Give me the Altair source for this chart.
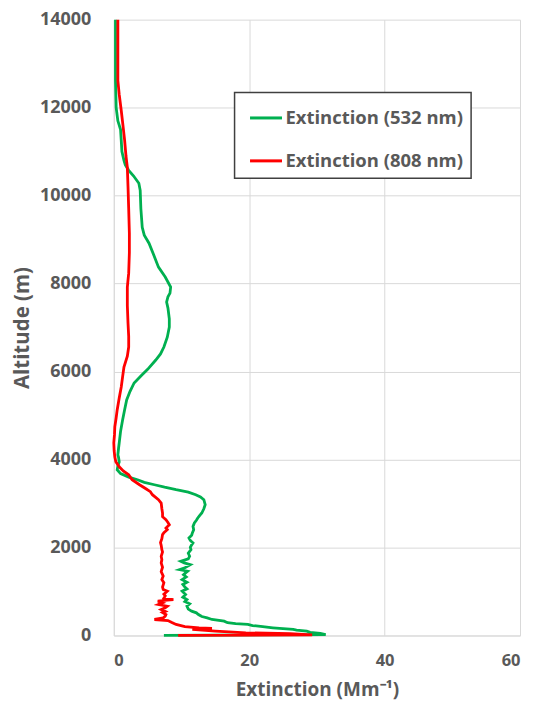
import altair as alt
import pandas as pd

# 532 nm profile (altitude m, extinction Mm^-1)
alt_532 = [0, 20, 45, 70, 98, 120, 136, 160, 174, 200, 225, 250, 270, 290, 325, 363, 400, 430, 476, 514,
           552, 600, 665, 720, 770, 817, 870, 930, 1006, 1060, 1100, 1160, 1210, 1270, 1330, 1380, 1422, 1460,
           1497, 1540, 1610, 1650, 1686, 1740, 1800, 1870, 1951, 2000, 2060, 2103, 2160, 2217, 2280, 2330,
           2400, 2480, 2557, 2620, 2670, 2730, 2784, 2880, 2972, 3086, 3150, 3200, 3260, 3313, 3370, 3426,
           3480, 3540, 3600, 3680, 3767, 3850, 3948, 4050, 4107, 4250, 4380, 4640, 4900, 5130, 5355, 5550,
           5740, 5900, 6050, 6262, 6400, 6557, 6780, 7011, 7200, 7442, 7579, 7700, 7783, 7919, 8150, 8373,
           8650, 8917, 9100, 9280, 9700, 10120, 10280, 10450, 10574, 10700, 10800, 11000, 11254, 11500,
           11700, 12000, 12615, 13300, 14000]
ext_532 = [7.4, 31.3, 30.5, 29.0, 28.5, 27.0, 26.5, 24.5, 23.5, 22.0, 20.5, 19.8, 18.0, 16.8, 16.3, 14.5, 13.8,
           13.0, 12.5, 12.2, 11.5, 11.0, 10.8, 11.2, 10.5, 10.8, 10.2, 10.6, 10.1, 10.8, 10.5, 10.2, 10.8, 10.1,
           10.7, 10.3, 10.6, 10.9, 9.7, 10.5, 11.3, 10.4, 9.9, 11.0, 11.2, 11.0, 11.4, 11.3, 11.5, 11.7, 11.3,
           11.1, 11.5, 11.6, 11.8, 11.7, 11.9, 12.2, 12.4, 12.7, 13.0, 13.3, 13.5, 13.3, 12.8, 12.1, 11.0, 9.2,
           7.5, 6.0, 4.5, 3.5, 2.2, 1.0, 0.5, 0.6, 0.8, 0.7, 0.6, 0.7, 0.8, 1.0, 1.3, 1.6, 1.9, 2.4, 3.0, 4.0,
           5.0, 6.2, 6.9, 7.4, 7.9, 8.2, 8.2, 8.0, 7.8, 8.0, 8.3, 8.4, 7.6, 6.6, 5.9, 5.2, 4.5, 4.2, 4.0, 3.9,
           3.7, 2.9, 2.2, 1.7, 1.5, 1.2, 1.1, 1.0, 0.6, 0.35, 0.25, 0.25, 0.25]

# 808 nm profile
alt_808 = [0, 15, 40, 60, 80, 100, 136, 160, 174, 200, 250, 300, 340, 363, 400, 440, 476, 520, 545, 590, 630,
           665, 703, 741, 779, 800, 817, 850, 900, 938, 1006, 1044, 1100, 1200, 1270, 1350, 1450, 1550, 1650,
           1724, 1800, 1900, 1951, 2050, 2110, 2200, 2292, 2337, 2405, 2443, 2519, 2570, 2632, 2700, 2784,
           2880, 3011, 3086, 3200, 3268, 3330, 3426, 3540, 3653, 3740, 3835, 3950, 4062, 4200, 4380, 4560,
           4742, 4950, 5128, 5400, 5650, 5880, 6104, 6350, 6557, 6800, 7100, 7500, 7919, 8237, 8700, 9144,
           9700, 10200, 10642, 10900, 11254, 11600, 11935, 12300, 12615, 13300, 14000]
ext_808 = [9.5, 29.3, 26.0, 19.5, 17.0, 15.0, 11.6, 14.5, 12.6, 10.5, 9.2, 8.5, 8.0, 6.0, 7.3, 7.6, 7.7, 7.2,
           7.6, 7.0, 7.6, 7.9, 6.6, 7.2, 6.5, 7.5, 8.8, 7.4, 7.6, 7.4, 7.9, 7.3, 7.2, 7.4, 7.1, 7.3, 7.0, 7.2,
           7.0, 7.1, 7.0, 7.2, 7.1, 7.0, 6.9, 7.1, 7.2, 7.4, 7.9, 7.7, 8.2, 8.0, 7.7, 7.2, 7.2, 7.1, 7.0, 6.6,
           5.7, 5.4, 4.8, 3.8, 2.7, 2.2, 1.4, 0.8, 0.3, 0.15, 0.05, 0.0, 0.1, 0.15, 0.35, 0.5, 0.8, 1.1, 1.3,
           1.5, 2.0, 2.2, 2.2, 2.1, 2.0, 2.0, 2.2, 2.3, 2.3, 2.2, 2.1, 2.0, 1.8, 1.6, 1.35, 1.1, 0.8, 0.6, 0.6,
           0.6]

series = ["Extinction (532 nm)", "Extinction (808 nm)"]
colors = ["#00B050", "#FF0000"]
x_ticks = [0, 20, 40, 60]
y_ticks = [0, 2000, 4000, 6000, 8000, 10000, 12000, 14000]

rows = []
for i, (a, e) in enumerate(zip(alt_532, ext_532)):
    rows.append({"series": series[0], "alt": a, "ext": e, "idx": i})
for i, (a, e) in enumerate(zip(alt_808, ext_808)):
    rows.append({"series": series[1], "alt": a, "ext": e, "idx": i})
df = pd.DataFrame(rows)

FONT = "Open Sans"
GRAY = "#595959"

chart = alt.Chart(df).mark_line(strokeWidth=2.8).encode(
    x=alt.X("ext:Q", scale=alt.Scale(domain=[0, 60], nice=False),
            axis=alt.Axis(values=x_ticks, title="Extinction (Mm⁻¹)", labelPadding=17,
                          labelFontSize=16.5, titlePadding=12, titleFontSize=19)),
    y=alt.Y("alt:Q", scale=alt.Scale(domain=[0, 14000], nice=False),
            axis=alt.Axis(values=y_ticks, format="d", title="Altitude (m)", labelPadding=23,
                          labelFontSize=18, titlePadding=7, titleFontSize=20.5)),
    color=alt.Color("series:N", scale=alt.Scale(domain=series, range=colors),
                    legend=alt.Legend(title=None, orient="none", legendX=121, legendY=73)),
    order=alt.Order("idx:Q"),
    detail="series:N",
).properties(
    width=407, height=617,
    autosize=alt.AutoSizeParams(type="none"),
    padding={"left": 106, "top": 11, "right": 8, "bottom": 66},
).configure_view(stroke=None).configure_axis(
    grid=True, gridColor="#d9d9d9", gridWidth=1, domainColor="#d9d9d9", domainWidth=1,
    ticks=False, labelFont=FONT, labelFontWeight="bold", labelColor=GRAY,
    titleFont=FONT, titleFontWeight="bold", titleColor=GRAY,
).configure_legend(
    strokeColor="#404040", strokeWidth=1.5, fillColor="white", padding=8,
    symbolType="stroke", symbolSize=1024, symbolStrokeWidth=3, symbolOffset=6,
    labelFont=FONT, labelFontSize=18.5, labelFontWeight="bold", labelColor=GRAY,
    labelOffset=2, rowPadding=16, labelLimit=400,
)

chart.save("out.html", embed_options={"renderer": "svg", "actions": False})
